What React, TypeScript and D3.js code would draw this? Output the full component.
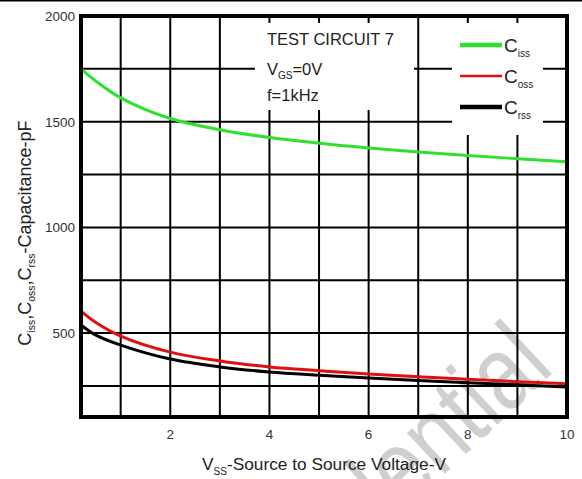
import React, { useEffect, useRef } from "react";
import * as d3 from "d3";

// values
const voltage = [0.2, 0.5, 1, 2, 3, 4, 5, 6, 7, 8, 9, 10];
const ciss = [1750, 1692, 1613, 1515, 1462, 1425, 1398, 1376, 1357, 1340, 1325, 1311];
const coss = [604, 550, 486, 410, 368, 340, 322, 306, 293, 281, 270, 260];
const crss = [538, 490, 443, 377, 340, 316, 301, 288, 276, 265, 255, 245];

const xTicks = [2, 4, 6, 8, 10];
const yTicks = [500, 1000, 1500, 2000];
const xGrid = [1, 2, 3, 4, 5, 6, 7, 8, 9];
const yGrid = [250, 500, 750, 1000, 1250, 1500, 1750];

const series = [
  { name: "iss", values: ciss, color: "#2fe02f", legendW: 4.5 },
  { name: "oss", values: coss, color: "#e01010", legendW: 2.5 },
  { name: "rss", values: crss, color: "#000000", legendW: 4.5 },
];

const FONT = "'Liberation Sans', Arial, sans-serif";

export default function App() {
  const ref = useRef<SVGSVGElement>(null);
  useEffect(() => {
    const node = ref.current;
    if (!node) return;
    const w = 582, h = 479, m = { t: 16, r: 15, b: 62, l: 81 };
    const svg = d3.select(node);
    svg.selectAll("*").remove();
    svg.append("rect").attr("width", w).attr("height", h).attr("fill", "#fff");
    svg.append("line").attr("x1", 0).attr("x2", w).attr("y1", 0.5).attr("y2", 0.5).attr("stroke", "#000").attr("stroke-width", 2);

    const x = d3.scaleLinear().domain([0.2, 10]).range([m.l, w - m.r]);
    const y = d3.scaleLinear().domain([103, 2000]).range([h - m.b, m.t]);

    // watermark, sits under the grid
    svg.append("text")
      .attr("transform", "translate(556,370) rotate(-43) scale(0.82,1)")
      .attr("text-anchor", "end")
      .attr("font-family", FONT).attr("font-size", 105)
      .attr("fill", "#cfcfcf")
      .text("Confidential");

    const g = svg.append("g");
    g.selectAll(".vg").data(xGrid).enter().append("line")
      .attr("x1", (d) => x(d)).attr("x2", (d) => x(d))
      .attr("y1", m.t).attr("y2", h - m.b)
      .attr("stroke", "#000").attr("stroke-width", 2);
    g.selectAll(".hg").data(yGrid).enter().append("line")
      .attr("x1", m.l).attr("x2", w - m.r)
      .attr("y1", (d) => y(d)).attr("y2", (d) => y(d))
      .attr("stroke", "#000").attr("stroke-width", 2);

    // white boxes for the notes and the legend
    g.append("rect").attr("x", 255).attr("y", 23).attr("width", 159).attr("height", 87).attr("fill", "#fff");
    g.append("rect").attr("x", 452).attr("y", 23).attr("width", 91).attr("height", 112).attr("fill", "#fff");

    const line = d3.line<number>()
      .x((_, i) => x(voltage[i]))
      .y((d) => y(d))
      .curve(d3.curveCatmullRom.alpha(0.5));
    series.forEach((s) => {
      g.append("path").attr("d", line(s.values)).attr("fill", "none")
        .attr("stroke", s.color).attr("stroke-width", 3);
    });

    g.append("rect").attr("x", m.l).attr("y", m.t)
      .attr("width", w - m.r - m.l).attr("height", h - m.b - m.t)
      .attr("fill", "none").attr("stroke", "#000").attr("stroke-width", 4);

    // tick labels
    g.selectAll(".yt").data(yTicks).enter().append("text")
      .attr("x", m.l - 6).attr("y", (d) => y(d) + 5)
      .attr("text-anchor", "end").attr("font-family", FONT).attr("font-size", 13.5)
      .attr("fill", "#333").text((d) => d);
    g.selectAll(".xt").data(xTicks).enter().append("text")
      .attr("x", (d) => x(d)).attr("y", 439)
      .attr("text-anchor", "middle").attr("font-family", FONT).attr("font-size", 13.5)
      .attr("fill", "#333").text((d) => d);

    // test conditions
    const note = g.append("g").attr("font-family", FONT).attr("font-size", 16.5).attr("fill", "#222");
    note.append("text").attr("x", 267).attr("y", 45).text("TEST CIRCUIT 7");
    const vg = note.append("text").attr("x", 267).attr("y", 75);
    vg.append("tspan").text("V");
    vg.append("tspan").attr("dy", 4).attr("font-size", 10).text("GS");
    vg.append("tspan").attr("dy", -4).text("=0V");
    note.append("text").attr("x", 267).attr("y", 101).text("f=1kHz");

    // legend
    series.forEach((s, i) => {
      const ly = 45 + i * 31;
      g.append("line").attr("x1", 460).attr("x2", 502).attr("y1", ly).attr("y2", ly)
        .attr("stroke", s.color).attr("stroke-width", s.legendW);
      const t = g.append("text").attr("x", 504).attr("y", ly + 7)
        .attr("font-family", FONT).attr("font-size", 19).attr("fill", "#222");
      t.append("tspan").text("C");
      t.append("tspan").attr("dy", 5).attr("font-size", 10).text(s.name);
    });

    // axis titles
    const xl = g.append("text").attr("x", 324).attr("y", 470).attr("text-anchor", "middle")
      .attr("font-family", FONT).attr("font-size", 17.3).attr("fill", "#222");
    xl.append("tspan").text("V");
    xl.append("tspan").attr("dy", 5).attr("font-size", 10).text("SS");
    xl.append("tspan").attr("dy", -5).text("-Source to Source Voltage-V");

    const yl = g.append("text").attr("transform", "translate(31,233) rotate(-90)")
      .attr("text-anchor", "middle")
      .attr("font-family", FONT).attr("font-size", 18).attr("fill", "#222");
    const parts: [string, string][] = [["C", "iss"], [",C", "oss"], [",C", "rss"]];
    parts.forEach(([a, b]) => {
      yl.append("tspan").attr("dy", b === "iss" ? 0 : -4).text(a);
      yl.append("tspan").attr("dy", 4).attr("font-size", 10.5).text(b);
    });
    yl.append("tspan").attr("dy", -4).text("-Capacitance-pF");
  }, []);
  return (
    <div style={{ position: "fixed", left: 0, top: 0 }}>
      <svg ref={ref} width={582} height={479} style={{ display: "block" }} />
    </div>
  );
}
